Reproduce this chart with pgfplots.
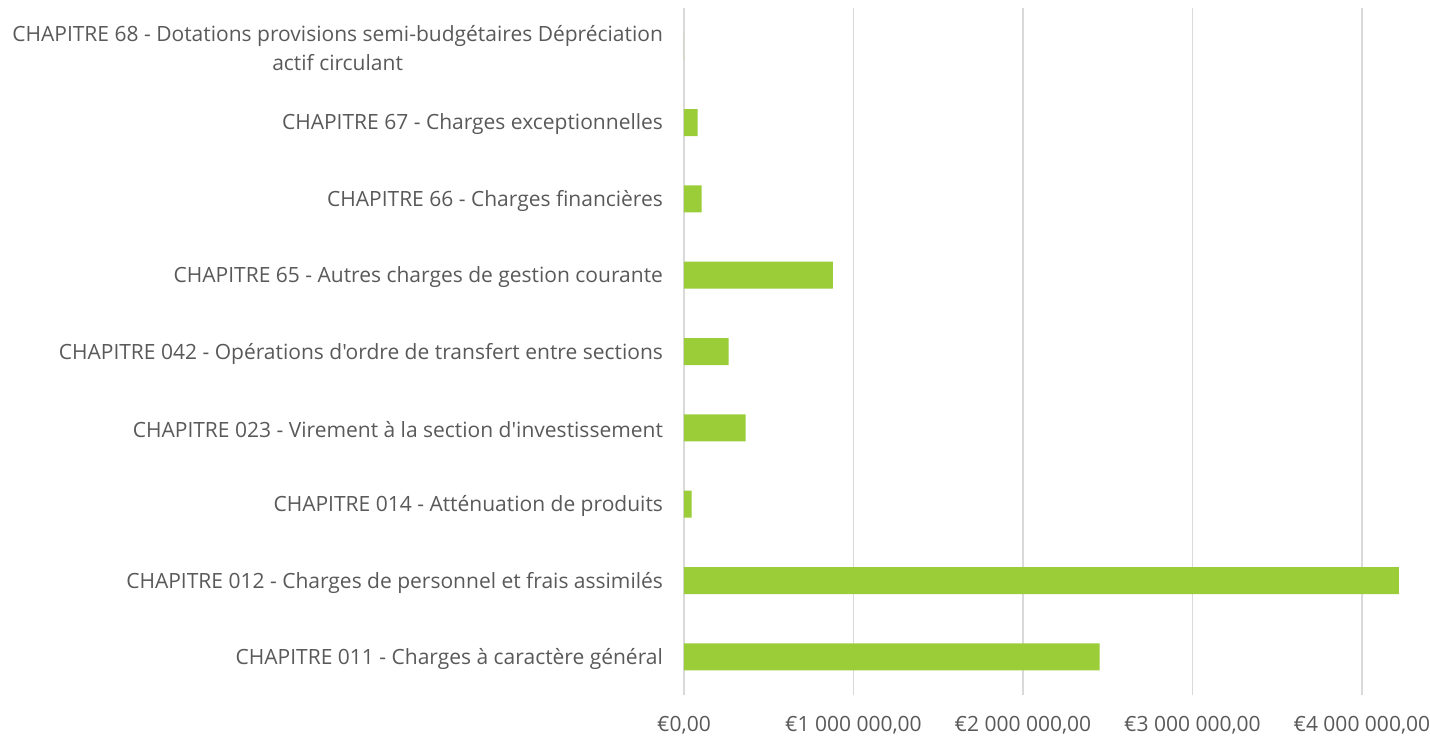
\documentclass[border=0pt]{standalone}
\usepackage{pgfplots}
\pgfplotsset{compat=1.18}
\usepackage{fontspec}
\setmainfont{Open Sans}[Ligatures=TeXOff]
\definecolor{bargreen}{HTML}{9ACD38}
\definecolor{gridgray}{HTML}{D9D9D9}
\definecolor{txtgray}{HTML}{595959}
\begin{document}
\begin{tikzpicture}[x=1pt,y=1pt]
\begin{axis}[
  scale only axis,
  width=372pt, height=343.5pt,
  xbar, bar width=13.5pt,
  xmin=0, xmax=4390000,
  ymin=-0.5, ymax=8.5,
  axis line style={draw=none},
  major tick length=0pt,
  xmajorgrids, grid style={gridgray, line width=0.8pt},
  xtick={0,1000000,2000000,3000000,4000000},
  xticklabels={{€0,00},{€1 000 000,00},{€2 000 000,00},{€3 000 000,00},{€4 000 000,00}},
  scaled x ticks=false,
  ytick={0,1,2,3,4,5,6,7,8},
  yticklabels={
    {CHAPITRE 011 - Charges à caractère général},
    {CHAPITRE 012 - Charges de personnel et frais assimilés},
    {CHAPITRE 014 - Atténuation de produits},
    {CHAPITRE 023 - Virement à la section d'investissement},
    {CHAPITRE 042 - Opérations d'ordre de transfert entre sections},
    {CHAPITRE 65 - Autres charges de gestion courante},
    {CHAPITRE 66 - Charges financières},
    {CHAPITRE 67 - Charges exceptionnelles},
    {CHAPITRE 68 - Dotations provisions semi-budgétaires Dépréciation\\actif circulant}},
  yticklabel style={font=\fontsize{10.5pt}{14.5pt}\selectfont, text=txtgray, align=center},
  xticklabel style={font=\fontsize{10.5pt}{14.5pt}\selectfont, text=txtgray},
  y tick label style={xshift=-7pt, yshift=-1pt},
  x tick label style={yshift=-7pt},
  clip=false,
]
\addplot[fill=bargreen, draw=none] coordinates {
  (2452000,0) (4218000,1) (45000,2) (364000,3) (264000,4) (879000,5) (104000,6) (81000,7) (0,8)
};
\end{axis}
\pgfresetboundingbox
\path (-342pt,-22.5pt) rectangle (373pt,347.5pt);
\end{tikzpicture}
\end{document}
